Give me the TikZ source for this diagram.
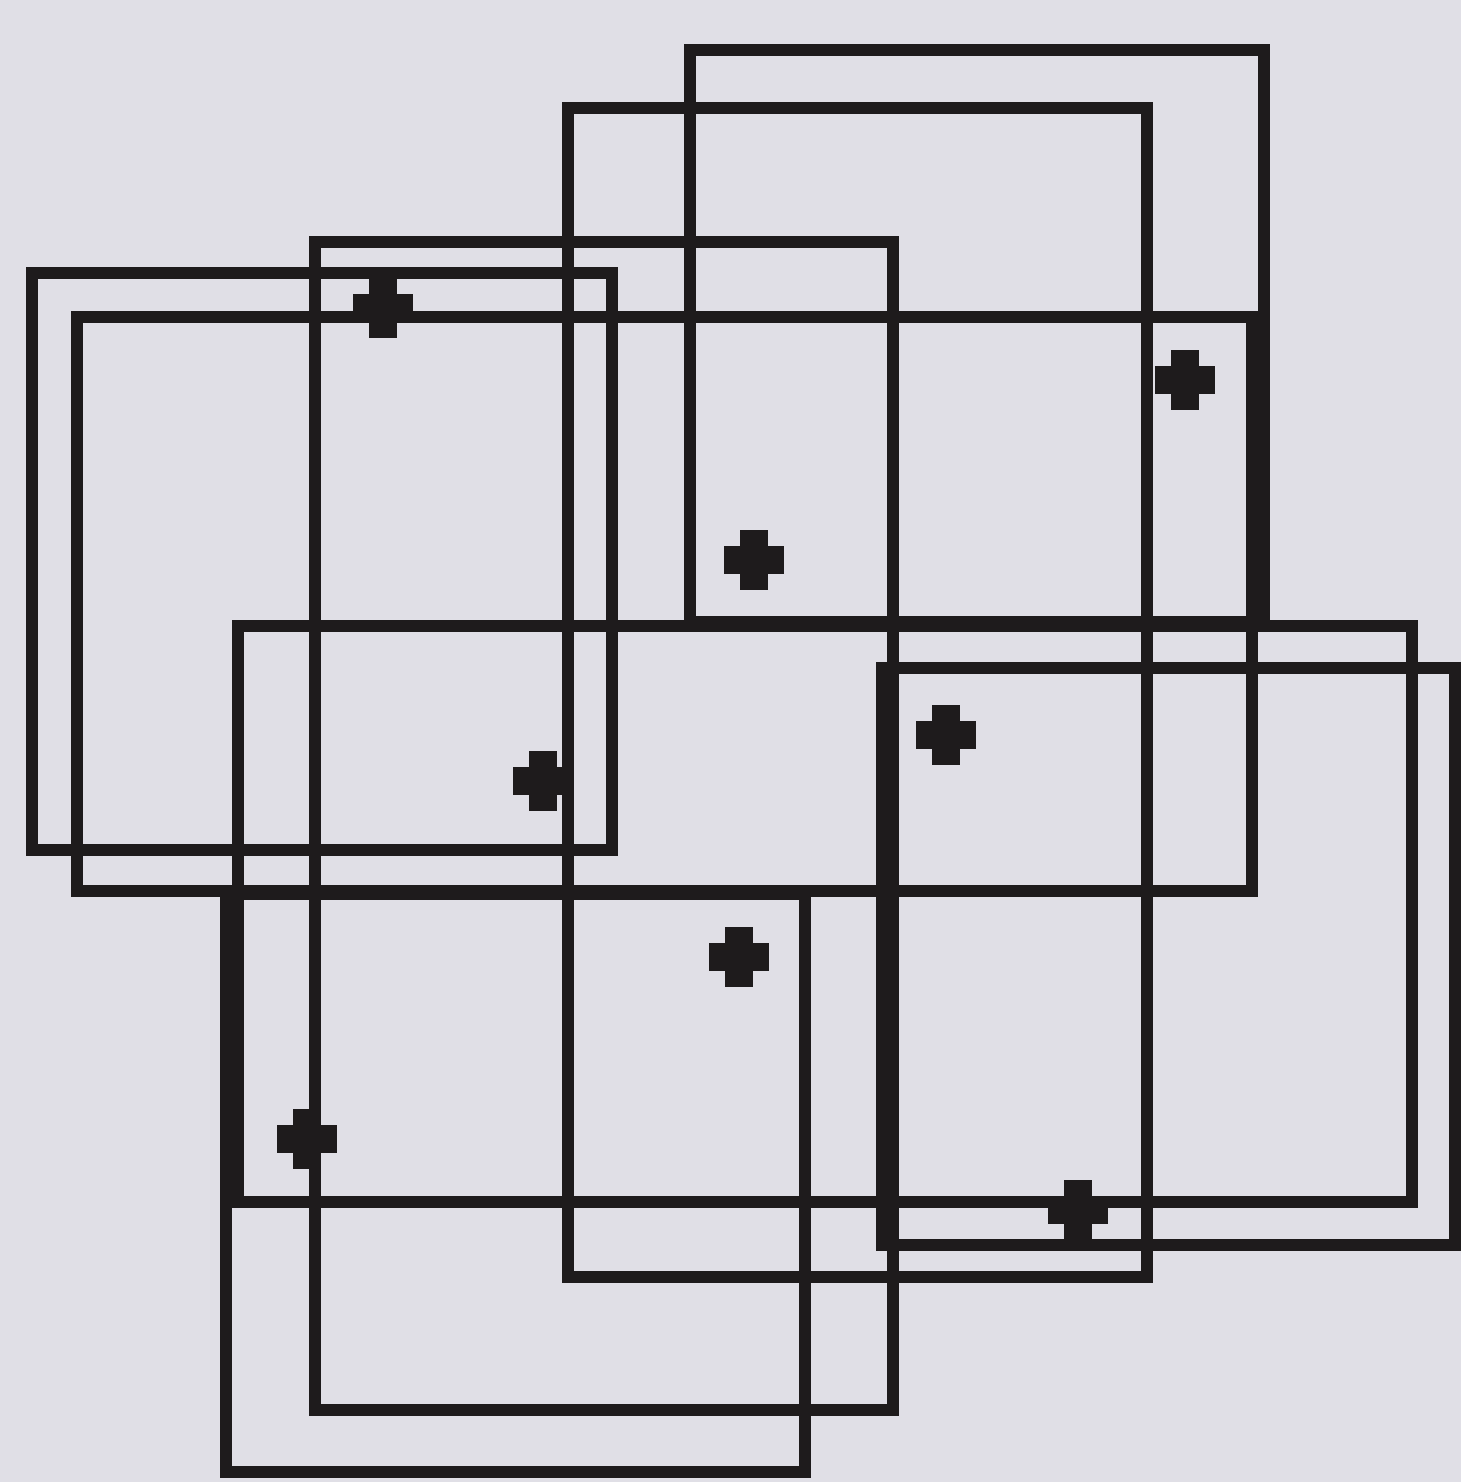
\documentclass[tikz,border=0pt]{standalone}
\definecolor{paper}{HTML}{E0DFE6}
\definecolor{ink}{HTML}{1E1B1C}
\begin{document}
\begin{tikzpicture}[x=0.01cm, y=-0.01cm,
    frame/.style={draw=ink, line width=3.4pt, line join=miter}]
  % sheet
  \fill[paper] (0,0) rectangle (1461,1482);
  % squares and double squares
  \draw[frame] (690,50) rectangle (1264,622);
  \draw[frame] (568,108) rectangle (1147,1277);
  \draw[frame] (315,242) rectangle (893,1410);
  \draw[frame] (32,273) rectangle (612,850);
  \draw[frame] (77,317) rectangle (1252,891);
  \draw[frame] (238,626) rectangle (1412,1202);
  \draw[frame] (882,668) rectangle (1455,1245);
  \draw[frame] (226,894) rectangle (805,1472);
  % centre marks
  \foreach \cx/\cy in {383/308, 1185/380, 754/560, 543/781,
                       946/735, 739/957, 307/1139, 1078/1210} {
    \fill[ink] (\cx-30,\cy-14) rectangle (\cx+30,\cy+14);
    \fill[ink] (\cx-14,\cy-30) rectangle (\cx+14,\cy+30);
  }
\end{tikzpicture}
\end{document}
